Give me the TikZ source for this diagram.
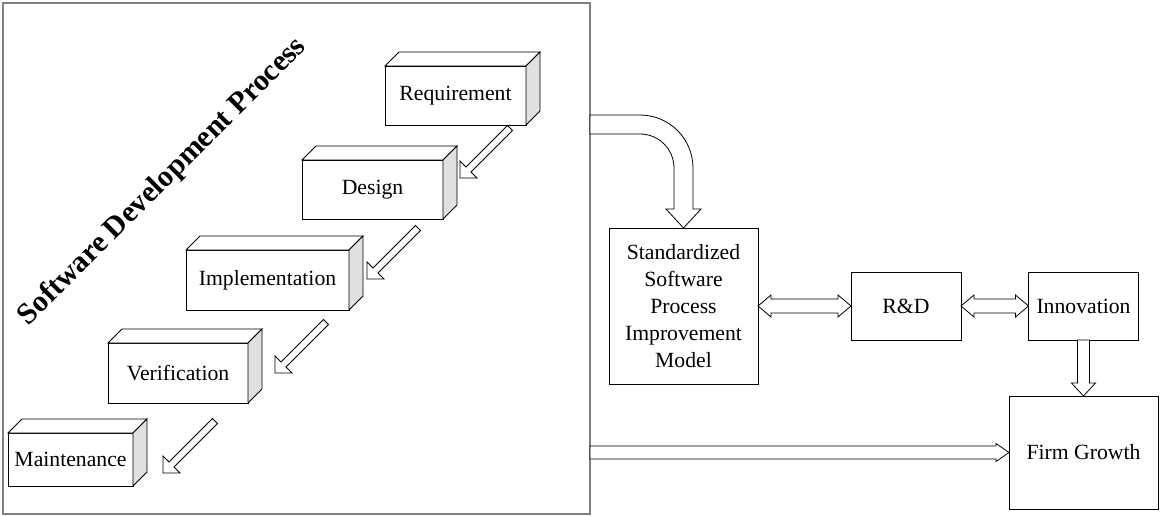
\documentclass[tikz,border=0pt]{standalone}
\usepackage{fontspec}
\setmainfont{Liberation Serif}
\usetikzlibrary{calc}
\definecolor{sidegray}{HTML}{E0E0E0}
\definecolor{framegray}{HTML}{7F7F7F}
% single hollow arrow: #1 tail, #2 tip, #3 shaft half-width, #4 head half-width, #5 head length
\newcommand{\harr}[5]{%
  \draw[hollow] ($(#1)!#3!90:(#2)$) -- ($(#2)!#5!(#1)!#3!-90:(#1)$) -- ($(#2)!#5!(#1)!#4!-90:(#1)$) -- (#2)
   -- ($(#2)!#5!(#1)!#4!90:(#1)$) -- ($(#2)!#5!(#1)!#3!90:(#1)$) -- ($(#1)!#3!-90:(#2)$) -- cycle;}
% double hollow arrow between #1 and #2
\newcommand{\dharr}[5]{%
  \draw[hollow] (#1) -- ($(#1)!#5!(#2)!#4!90:(#2)$) -- ($(#1)!#5!(#2)!#3!90:(#2)$) -- ($(#2)!#5!(#1)!#3!-90:(#1)$)
   -- ($(#2)!#5!(#1)!#4!-90:(#1)$) -- (#2) -- ($(#2)!#5!(#1)!#4!90:(#1)$) -- ($(#2)!#5!(#1)!#3!90:(#1)$)
   -- ($(#1)!#5!(#2)!#3!-90:(#2)$) -- ($(#1)!#5!(#2)!#4!-90:(#2)$) -- cycle;}
% 3D box: #1 name, #2 x, #3 y, #4 width, #5 height, #6 text
\newcommand{\cube}[6]{%
  \node[box, minimum width=#4, minimum height=#5] (#1) at (#2,#3) {#6};
  \draw[face, fill=white] (#1.north west) -- ++(14,14) -- ($(#1.north east)+(14,14)$) -- (#1.north east) -- cycle;
  \draw[face, fill=sidegray] (#1.north east) -- ++(14,14) -- ($(#1.south east)+(14,14)$) -- (#1.south east) -- cycle;}
\begin{document}
\begin{tikzpicture}[x=1pt,y=1pt,
  box/.style={draw=black, line width=0.8pt, fill=white, inner sep=0pt, outer sep=0pt,
    font=\fontsize{21.7}{27}\selectfont, align=center},
  face/.style={draw=black, line width=0.8pt, line join=miter},
  hollow/.style={draw=black, line width=0.8pt, fill=white, line join=miter}]
\useasboundingbox (0,0) rectangle (1160,-516);

% outer frame
\node[draw=framegray, line width=1.3pt, minimum width=587, minimum height=511, inner sep=0pt, outer sep=0pt] (sdp) at (296.5,-258.5) {};

% title
\node[font=\fontsize{30}{36}\selectfont\bfseries, rotate=45, anchor=base, inner sep=0pt] (title) at (168,-187) {Software Development Process};

% 3D process boxes
\cube{req}{455.5}{-95.5}{141}{59}{Requirement}
\cube{des}{372.5}{-189.5}{141}{59}{Design}
\cube{imp}{267.5}{-280}{163}{60}{Implementation}
\cube{ver}{178}{-373}{140}{60}{Verification}
\cube{mai}{70.5}{-459.5}{125}{53}{Maintenance}

% diagonal hollow arrows
\coordinate (a1s) at (510,-128); \coordinate (a1e) at (460,-178);
\coordinate (a2s) at (418,-228); \coordinate (a2e) at (367,-279);
\coordinate (a3s) at (326,-322); \coordinate (a3e) at (275,-373);
\coordinate (a4s) at (215,-421); \coordinate (a4e) at (163,-473);
\harr{a1s}{a1e}{3.5pt}{12pt}{12pt}
\harr{a2s}{a2e}{3.5pt}{12pt}{12pt}
\harr{a3s}{a3e}{3.5pt}{12pt}{12pt}
\harr{a4s}{a4e}{3.5pt}{12pt}{12pt}

% right side boxes
\node[box, minimum width=149, minimum height=156] (std) at (683.5,-306) {Standardized\\Software\\Process\\Improvement\\Model};
\node[box, minimum width=110, minimum height=68] (rd) at (906,-306) {R\&D};
\node[box, minimum width=110, minimum height=68] (inn) at (1083.5,-306) {Innovation};
\node[box, minimum width=149, minimum height=113] (fg) at (1083.5,-452.5) {Firm Growth};

% curved arrow from the process frame to the model
\draw[hollow] (sdp.east |- 0,-115) -- (640,-115) arc[start angle=90, end angle=0, radius=53]
  -- (693,-209) -- (701,-209) -- (std.north) -- (666,-209) -- (674,-209) -- (674,-168)
  arc[start angle=0, end angle=90, radius=34] -- (sdp.east |- 0,-134) -- cycle;

% double arrows
\dharr{std.east}{rd.west}{7pt}{11pt}{13pt}
\dharr{rd.east}{inn.west}{7pt}{11pt}{13pt}

% down arrow innovation -> firm growth
\harr{inn.south}{fg.north}{6pt}{12pt}{13pt}

% long arrow frame -> firm growth
\coordinate (c1) at (sdp.east |- fg.west);
\harr{c1}{fg.west}{6.5pt}{9pt}{13pt}
\end{tikzpicture}
\end{document}
